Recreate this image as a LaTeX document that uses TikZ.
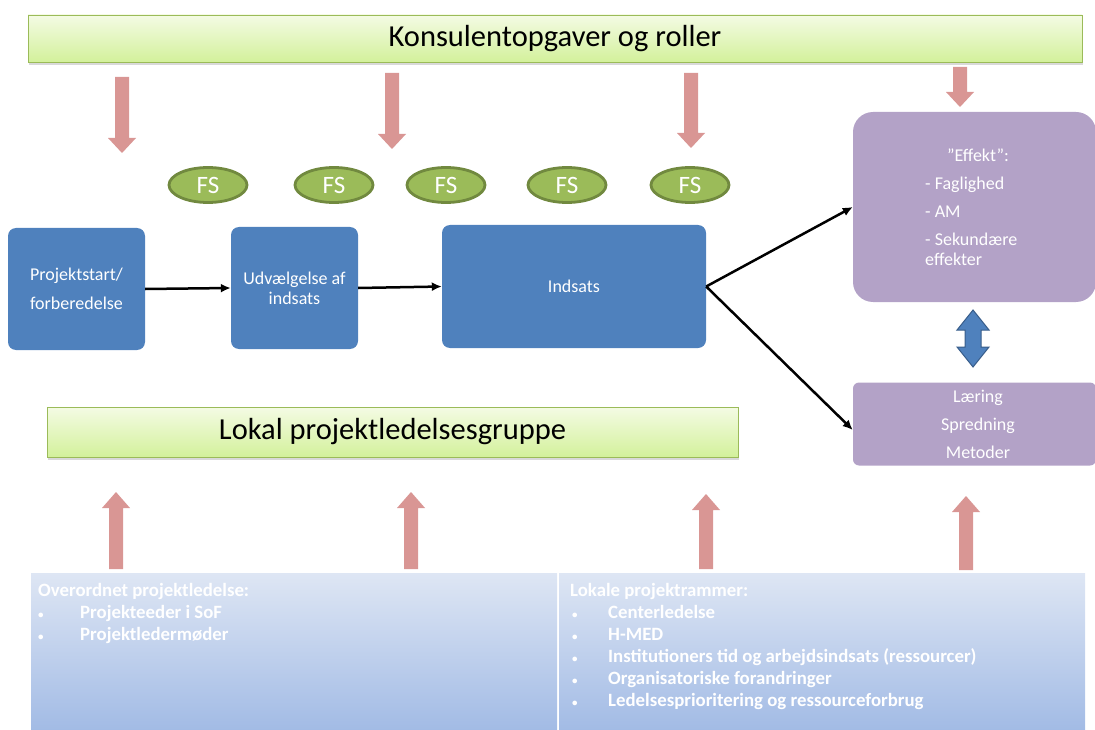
\documentclass[tikz,border=0pt]{standalone}
\usepackage{fontspec}
\setmainfont{Carlito}
\usetikzlibrary{shadows,arrows.meta,shapes.geometric}
\definecolor{boxblue}{HTML}{4F81BD}
\definecolor{boxblueedge}{HTML}{385D8A}
\definecolor{boxpurple}{HTML}{B3A2C7}
\definecolor{pinkarr}{HTML}{D99694}
\definecolor{fsgreen}{HTML}{9BBB59}
\definecolor{fsedge}{HTML}{71893F}
\definecolor{bartop}{HTML}{F4FBE4}
\definecolor{barbottom}{HTML}{D3F19B}
\definecolor{barborder}{HTML}{9BBB59}
\definecolor{paneltop}{HTML}{DEE6F4}
\definecolor{panelbottom}{HTML}{A2BBE5}
\newcommand\pinkdown[3]{\fill[pinkarr] ({#1-7},#2) -- ({#1+7},#2) -- ({#1+7},{#3-15}) -- ({#1+14},{#3-15}) -- (#1,#3) -- ({#1-14},{#3-15}) -- ({#1-7},{#3-15}) -- cycle;}
\newcommand\pinkup[3]{\fill[pinkarr] ({#1-7},#2) -- ({#1+7},#2) -- ({#1+7},{#3+16}) -- ({#1+14},{#3+16}) -- (#1,#3) -- ({#1-14},{#3+16}) -- ({#1-7},{#3+16}) -- cycle;}
\newcommand\smallbul{{\fontsize{11}{11}\selectfont •}}
\begin{document}
\begin{tikzpicture}[x=1pt,y=-1pt,
  bar/.style={draw=barborder, line width=0.8pt, top color=bartop, bottom color=barbottom,
    drop shadow={opacity=0.3, shadow xshift=1pt, shadow yshift=-3pt},
    font=\fontsize{30.5}{34}\selectfont, text=black},
  bluebox/.style={fill=boxblue, rounded corners=8pt, text=white, align=center,
    font=\fontsize{18}{20}\selectfont},
  purplebox/.style={fill=boxpurple, rounded corners=#1},
  wtext/.style={text=white, inner sep=0pt, font=\fontsize{18}{20}\selectfont},
  fs/.style={ellipse, fill=fsgreen, draw=fsedge, line width=2.8pt, minimum width=78pt,
    minimum height=35pt, inner sep=0pt, text=white, font=\fontsize{25}{28}\selectfont},
  panel/.style={top color=paneltop, bottom color=panelbottom, inner sep=0pt},
  ptext/.style={text=white, inner sep=0pt, align=left, anchor=north west,
    font=\fontsize{18.8}{22}\selectfont\bfseries},
  conn/.style={line width=2.5pt, -{Latex[length=10pt,width=9pt]}}
]
\useasboundingbox (0,0) rectangle (1095,730);

% top bar
\node[bar, minimum width=1054pt, minimum height=47pt] (top) at (555,38.5) {Konsulentopgaver og roller};

% down arrows
\pinkdown{122}{77}{153}
\pinkdown{392}{73}{149}
\pinkdown{691}{73}{148}
\pinkdown{960}{67}{107}

% FS ellipses
\node[fs] (fs1) at (208,185) {FS};
\node[fs] (fs2) at (334,185) {FS};
\node[fs] (fs3) at (446,185) {FS};
\node[fs] (fs4) at (567,185) {FS};
\node[fs] (fs5) at (690,185) {FS};

% blue boxes
\node[bluebox, minimum width=137pt, minimum height=122pt] (b1) at (76.5,289)
  {Projektstart/\\[9pt]forberedelse};
\node[bluebox, minimum width=127pt, minimum height=122pt] (b2) at (294.5,288)
  {Udvælgelse af\\indsats};
\node[bluebox, minimum width=264pt, minimum height=123pt] (b3) at (574,286.5)
  {Indsats};

% purple boxes
\node[purplebox=20pt, minimum width=243pt, minimum height=190pt] (e1) at (974.5,207) {};
\node[wtext, anchor=west, align=left] (e1t) at (925,207)
  {\hspace*{22pt}”Effekt”:\\[8pt]- Faglighed\\[8pt]- AM\\[8pt]- Sekundære\\effekter};
\node[purplebox=6pt, minimum width=243pt, minimum height=83pt] (e2) at (974.5,424) {};
\node[wtext, align=center, font=\fontsize{18}{28}\selectfont] (e2t) at (978,424)
  {Læring\\Spredning\\Metoder};

% double arrow
\filldraw[fill=boxblue, draw=boxblueedge, line width=1pt]
  (973,310) -- (989,330) -- (981,330) -- (981,347) -- (989,347) -- (973,367)
  -- (957,347) -- (965,347) -- (965,330) -- (957,330) -- cycle;

% connectors
\draw[conn] (b1.east) -- (b2.west);
\draw[conn] (b2.east) -- (b3.west);
\draw[conn] (b3.east) -- (e1.west);
\draw[conn] (b3.east) -- ([yshift=-6pt]e2.west);

% lokal bar
\node[bar, minimum width=691pt, minimum height=50pt] (lokal) at (392.5,432) {Lokal projektledelsesgruppe};

% up arrows
\pinkup{116}{569}{492}
\pinkup{411}{569}{492}
\pinkup{706}{569}{494}
\pinkup{966}{570}{496}

% bottom panels
\node[panel, minimum width=526pt, minimum height=157pt] (pl) at (294,651.5) {};
\node[panel, minimum width=526pt, minimum height=157pt] (pr) at (822,651.5) {};
\node[ptext] (plt) at (38,583)
  {Overordnet projektledelse:\\
   \makebox[42pt][l]{\smallbul}Projekteeder i SoF\\
   \makebox[42pt][l]{\smallbul}Projektledermøder};
\node[ptext] (prt) at (570,583)
  {Lokale projektrammer:\\
   \makebox[38pt][l]{\hspace{2pt}\smallbul}Centerledelse\\
   \makebox[38pt][l]{\hspace{2pt}\smallbul}H-MED\\
   \makebox[38pt][l]{\hspace{2pt}\smallbul}Institutioners tid og arbejdsindsats (ressourcer)\\
   \makebox[38pt][l]{\hspace{2pt}\smallbul}Organisatoriske forandringer\\
   \makebox[38pt][l]{\hspace{2pt}\smallbul}Ledelsesprioritering og ressourceforbrug};
\end{tikzpicture}
\end{document}
